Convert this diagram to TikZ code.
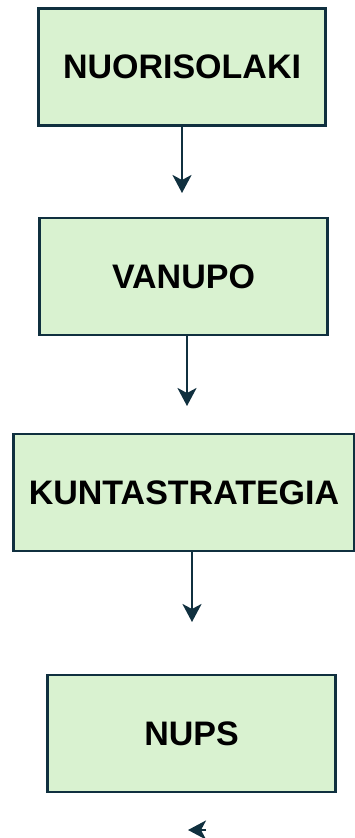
\documentclass[tikz,border=0pt]{standalone}
\usepackage{fontspec}
\setmainfont{Liberation Sans}
\usetikzlibrary{arrows.meta}
\definecolor{boxfill}{HTML}{D9F2D0}
\definecolor{boxline}{HTML}{10303F}
\begin{document}
\begin{tikzpicture}[x=1pt,y=-1pt,inner sep=0pt,outer sep=0pt,line width=2.5pt,
lawbox/.style={draw=boxline,fill=boxfill,rectangle,minimum height=117pt,font=\fontsize{34}{38}\selectfont\bfseries},
flow/.style={draw=boxline,line width=2.5pt,-{Stealth[length=18pt,width=19pt,inset=5pt]}}]
\useasboundingbox (0,0) rectangle (355,838);
\draw (182,67) node[lawbox,minimum width=287pt] (laki) {NUORISOLAKI};
\draw (183.5,276.5) node[lawbox,minimum width=288pt] (vanupo) {VANUPO};
\draw (184,492.5) node[lawbox,minimum width=341pt] (strat) {KUNTASTRATEGIA};
\draw (191.5,733.5) node[lawbox,minimum width=288pt] (nups) {NUPS};
\coordinate (t1) at (182,193);
\coordinate (t2) at (187,406);
\coordinate (t3) at (192,622);
\coordinate (t4) at (188,830);
\coordinate (s4) at (206,830);
\draw[flow] (laki.south -| t1) -- (t1);
\draw[flow] (vanupo.south -| t2) -- (t2);
\draw[flow] (strat.south -| t3) -- (t3);
\draw[flow] (s4) -- (t4);
\end{tikzpicture}
\end{document}
